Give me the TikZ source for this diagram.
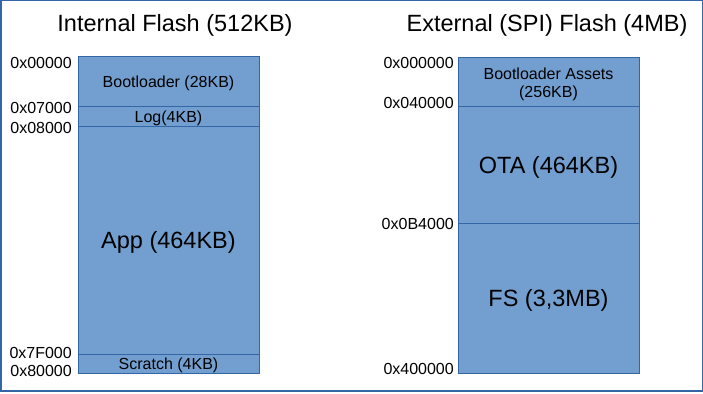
\documentclass[tikz,border=0pt]{standalone}
\usepackage{fontspec}
\setmainfont{Liberation Sans}
\usetikzlibrary{positioning}
\definecolor{fillblue}{HTML}{729FCF}
\definecolor{lineblue}{HTML}{3465A4}
\tikzset{
  region/.style={draw=lineblue, fill=fillblue, line width=1pt, minimum width=181pt,
    inner sep=0pt, outer sep=0pt, anchor=north, align=center, text depth=0pt,
    font=\fontsize{16}{18}\selectfont},
  bigregion/.style={region, font=\fontsize{23.5}{28}\selectfont},
  addr/.style={anchor=east, inner sep=0pt, font=\fontsize{16}{18}\selectfont},
  title/.style={anchor=base, inner sep=0pt, font=\fontsize{23.5}{28}\selectfont},
}

\begin{document}
\begin{tikzpicture}[x=1pt, y=-1pt]
  \useasboundingbox (0,0) rectangle (703,393);
  \draw[lineblue, line width=1.5pt] (0.75,0.75) rectangle (702.25,391);

  % internal flash
  \node[title] (inttitle) at (175,32) {Internal Flash (512KB)};
  \node[region, minimum height=50pt] (boot) at (168.5,57) {Bootloader (28KB)};
  \node[region, minimum height=19pt, below=0pt of boot] (log) {Log(4KB)};
  \node[bigregion, minimum height=228pt, below=0pt of log] (app) {App (464KB)};
  \node[region, minimum height=19pt, below=0pt of app] (scratch) {Scratch (4KB)};

  \node[addr] (int0) at (72,63) {0x00000};
  \node[addr] (int1) at (72,108) {0x07000};
  \node[addr] (int2) at (72,128) {0x08000};
  \node[addr] (int3) at (72,353) {0x7F000};
  \node[addr] (int4) at (72,371) {0x80000};

  % external flash
  \node[title] (exttitle) at (547,32) {External (SPI) Flash (4MB)};
  \node[region, minimum height=49pt] (assets) at (548.5,58) {Bootloader Assets\\(256KB)};
  \node[bigregion, minimum height=116pt, below=0pt of assets] (ota) {OTA (464KB)};
  \node[bigregion, minimum height=150pt, below=0pt of ota] (fs) {FS (3,3MB)};

  \node[addr] (ext0) at (454,63) {0x000000};
  \node[addr] (ext1) at (454,103) {0x040000};
  \node[addr] (ext2) at (454,224) {0x0B4000};
  \node[addr] (ext3) at (454,369) {0x400000};
\end{tikzpicture}
\end{document}
